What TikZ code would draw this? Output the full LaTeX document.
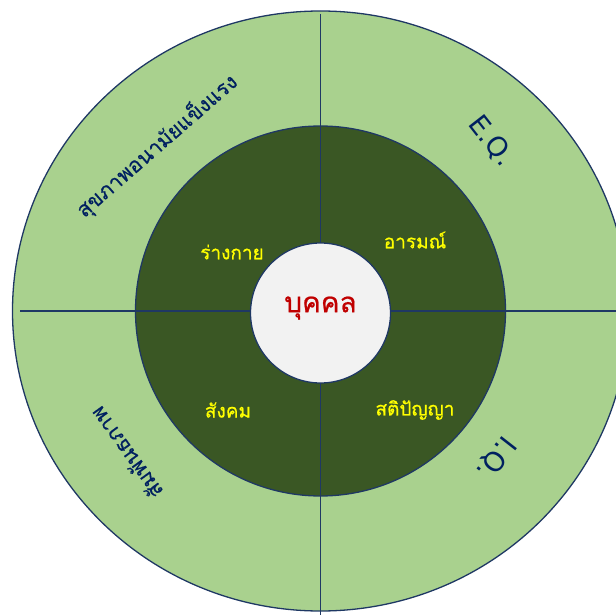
\documentclass[tikz,border=0pt]{standalone}
\usepackage{fontspec}
\newfontfamily\thaim[Script=Thai,FakeBold=0.4]{Loma}
\newfontfamily\thaib[Script=Thai,FakeBold=0.7]{Loma}
\newfontfamily\latinf{DejaVu Sans}
\definecolor{lightg}{HTML}{A9D18E}
\definecolor{darkg}{HTML}{3A5724}
\definecolor{navy}{HTML}{1F3864}
\definecolor{txtnavy}{HTML}{002060}
\definecolor{ctr}{HTML}{F2F2F2}
\definecolor{redt}{HTML}{C00000}
\definecolor{yel}{HTML}{FFFF00}
\tikzset{
  ring/.style={draw=navy, line width=1.3pt},
  divider/.style={draw=navy, line width=1.8pt},
  inlabel/.style={text=yel, font=\thaib\fontsize{19}{22}\selectfont, inner sep=0pt},
  outlabel/.style={text=txtnavy, font=\thaim\fontsize{21}{24}\selectfont, inner sep=0pt},
  latlabel/.style={text=txtnavy, font=\latinf\fontsize{27}{30}\selectfont, inner sep=0pt}
}
\begin{document}
\begin{tikzpicture}[x=1pt,y=-1pt]
\useasboundingbox (0,0) rectangle (616,615);
\clip (0,0) rectangle (616,615);
\coordinate (c) at (320.5,311);
\coordinate (hl) at (20,311);
\coordinate (hr) at (620,311);
\coordinate (vt) at (320.5,14);
\coordinate (vb) at (320.5,620);
\fill[lightg] (c) ellipse [x radius=308, y radius=300];
\draw[ring] (c) ellipse [x radius=308, y radius=300];
\fill[darkg] (c) circle [radius=185];
\draw[ring] (c) circle [radius=185];
\draw[divider] (hl) -- (hr);
\draw[divider] (vt) -- (vb);
\node[circle, fill=ctr, draw=navy, line width=1.3pt, minimum size=140pt, inner sep=0pt] (center) at (320.5,313) {};
\node[text=redt, font=\thaib\fontsize{28}{32}\selectfont, inner sep=0pt] (bk) at (320.5,308) {บุคคล};
\node[inlabel] (body) at (232,252) {ร่างกาย};
\node[inlabel] (emo) at (415,240) {อารมณ์};
\node[inlabel] (soc) at (228,410) {สังคม};
\node[inlabel] (intel) at (415,410) {สติปัญญา};
\node[outlabel, rotate=41] (health) at (157,146) {สุขภาพอนามัยแข็งแรง};
\node[outlabel, rotate=126] (rel) at (126,453) {สัมพันธภาพ};
\node[latlabel, rotate=-52] (eq) at (491,141) {E.Q.};
\node[latlabel, rotate=-128] (iq) at (496,458) {I.Q.};
\end{tikzpicture}
\end{document}
